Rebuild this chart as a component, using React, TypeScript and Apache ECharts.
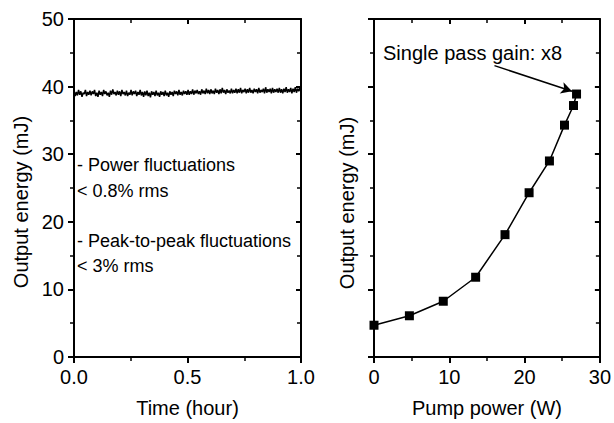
import React, { useEffect, useRef } from "react";
import * as echarts from "echarts";

// Left panel: output energy (mJ) recorded over one hour
const stabilityEnergy: number[] = [
  39.4, 38.6, 39.2, 38.7, 39.5, 38.8, 39.3, 38.5, 39.1, 38.9, 39.5, 38.6, 39.2, 38.8, 39.4, 38.7, 39.3, 38.9, 39.5, 38.6,
  39.1, 38.5, 39.4, 38.8, 39.2, 38.6, 39.5, 38.9, 39.3, 38.7, 39.1, 38.5, 39.4, 38.8, 39.6, 38.9, 39.2, 38.7, 39.4, 38.8,
  39.3, 38.6, 39.5, 38.9, 39.2, 38.7, 39.4, 38.6, 39.1, 38.8, 39.5, 38.7, 39.3, 38.9, 39.4, 38.6, 39.2, 38.8, 39.5, 38.7,
  39.2, 38.5, 39.3, 38.7, 39.4, 38.6, 39.1, 38.4, 39.3, 38.8, 39.2, 38.6, 39.4, 38.7, 39.1, 38.5, 39.3, 38.8, 39.2, 38.6,
  39.4, 38.7, 39.1, 38.5, 39.3, 38.8, 39.2, 38.6, 39.4, 38.9, 39.3, 38.7, 39.5, 38.8, 39.2, 38.7, 39.4, 38.9, 39.3, 38.8,
  39.5, 38.8, 39.3, 38.9, 39.6, 38.8, 39.4, 39.0, 39.5, 38.9, 39.3, 38.8, 39.6, 39.0, 39.4, 38.9, 39.7, 39.0, 39.5, 38.9,
  39.6, 39.0, 39.4, 38.9, 39.7, 39.1, 39.5, 38.9, 39.6, 39.0, 39.8, 39.1, 39.5, 38.9, 39.6, 39.1, 39.4, 39.0, 39.7, 39.0,
  39.5, 39.1, 39.7, 39.0, 39.6, 39.1, 39.8, 39.0, 39.5, 39.2, 39.7, 39.0, 39.6, 39.1, 39.8, 39.1, 39.5, 39.0, 39.7, 39.2,
  39.6, 39.0, 39.8, 39.1, 39.5, 39.2, 39.7, 39.0, 39.9, 39.1, 39.6, 39.2, 39.7, 39.0, 39.8, 39.1, 39.6, 39.2, 39.7, 39.1,
  39.8, 39.1, 39.6, 39.0, 39.7, 39.2, 39.9, 39.1, 39.6, 39.2, 39.8, 39.0, 39.7, 39.2, 39.9, 39.1, 39.7, 39.3, 39.8, 39.2,
];
const durationHours = 1;

// Right panel: pump power (W) vs output energy (mJ)
const pumpPower: number[] = [0, 4.7, 9.2, 13.5, 17.4, 20.6, 23.3, 25.3, 26.5, 26.9];
const pumpEnergy: number[] = [4.7, 6.1, 8.25, 11.8, 18.1, 24.3, 29.0, 34.3, 37.2, 38.9];

// Annotation arrow (data coords of the right panel)
const arrowFrom: [number, number] = [16.0, 43.1];
const arrowTo: [number, number] = [26.3, 39.3];

const leftNotes: string[] = [
  "- Power fluctuations",
  "< 0.8% rms",
  "- Peak-to-peak fluctuations",
  "< 3% rms",
];
const rightNote = "Single pass gain: x8";
const yName = "Output energy (mJ)";
const xNameLeft = "Time (hour)";
const xNameRight = "Pump power (W)";

const FONT = "'Liberation Sans', Arial, Helvetica, sans-serif";

export default function App() {
  const ref = useRef<HTMLDivElement>(null);

  useEffect(() => {
    if (!ref.current) return;
    const chart = echarts.init(ref.current, undefined, { renderer: "svg" });

    const n = stabilityEnergy.length;
    const noiseData = stabilityEnergy.map((v, i) => [(i / (n - 1)) * durationHours, v]);
    const pumpData = pumpPower.map((p, i) => [p, pumpEnergy[i]]);

    const line = { show: true, onZero: false, lineStyle: { color: "#000", width: 2 } };
    const outTick = { show: true, inside: false, length: 6, lineStyle: { color: "#000", width: 2 } };
    const inTick = { show: true, inside: true, length: 5, lineStyle: { color: "#000", width: 2 } };
    const minor = (len: number) => ({ show: true, splitNumber: 2, length: len, lineStyle: { color: "#000", width: 1.5 } });
    const label = { show: true, color: "#000", fontSize: 20, fontFamily: FONT, margin: 10 };
    const noLabel = { show: false };

    const xBottom = (grid: number, max: number, interval: number, name: string, fmt?: (v: number) => string) => ({
      type: "value",
      gridIndex: grid,
      position: "bottom",
      min: 0,
      max,
      interval,
      axisLine: line,
      axisTick: outTick,
      minorTick: minor(4),
      splitLine: { show: false },
      axisLabel: { ...label, formatter: fmt },
      name,
      nameLocation: "middle",
      nameGap: 41,
      nameTextStyle: { color: "#000", fontSize: 20, fontFamily: FONT },
    });
    const xTop = (grid: number, max: number, interval: number) => ({
      type: "value",
      gridIndex: grid,
      position: "top",
      min: 0,
      max,
      interval,
      axisLine: line,
      axisTick: inTick,
      minorTick: minor(4),
      splitLine: { show: false },
      axisLabel: noLabel,
    });
    const yLeft = (grid: number, showLabels: boolean) => ({
      type: "value",
      gridIndex: grid,
      position: "left",
      min: 0,
      max: 50,
      interval: 10,
      axisLine: line,
      axisTick: outTick,
      minorTick: minor(4),
      splitLine: { show: false },
      axisLabel: showLabels ? label : noLabel,
    });
    const yRight = (grid: number) => ({
      type: "value",
      gridIndex: grid,
      position: "right",
      min: 0,
      max: 50,
      interval: 10,
      axisLine: line,
      axisTick: inTick,
      minorTick: minor(4),
      splitLine: { show: false },
      axisLabel: noLabel,
    });

    const textStyle = (text: string, size: number, align: string) => ({
      text,
      fontSize: size,
      fontFamily: FONT,
      fill: "#000",
      align,
      verticalAlign: "middle",
    });

    const noteY = [165, 191, 241, 266];

    chart.setOption({
      animation: false,
      backgroundColor: "#fff",
      grid: [
        { left: 74, right: 313, top: 19, bottom: 63.5 },
        { left: 374, right: 12.5, top: 19, bottom: 63.5 },
      ],
      xAxis: [
        xBottom(0, 1, 0.5, xNameLeft, (v: number) => v.toFixed(1)),
        xTop(0, 1, 0.5),
        xBottom(1, 30, 10, xNameRight),
        xTop(1, 30, 10),
      ],
      yAxis: [yLeft(0, true), yRight(0), yLeft(1, false), yRight(1)],
      series: [
        {
          type: "line",
          xAxisIndex: 0,
          yAxisIndex: 0,
          data: noiseData,
          showSymbol: false,
          symbol: "none",
          lineStyle: { color: "#000", width: 1.5 },
        },
        {
          type: "line",
          xAxisIndex: 2,
          yAxisIndex: 2,
          data: pumpData,
          symbol: "rect",
          symbolSize: 9,
          itemStyle: { color: "#000" },
          lineStyle: { color: "#000", width: 1.5 },
          markLine: {
            silent: true,
            symbol: ["none", "arrow"],
            symbolSize: [9, 11],
            label: { show: false },
            lineStyle: { color: "#000", width: 1.5, type: "solid" },
            data: [[{ coord: arrowFrom }, { coord: arrowTo }]],
          },
        },
      ],
      graphic: [
        ...leftNotes.map((t, i) => ({
          type: "text",
          x: 77,
          y: noteY[i],
          style: textStyle(t, 18, "left"),
        })),
        { type: "text", x: 383, y: 53, style: textStyle(rightNote, 20, "left") },
        { type: "text", x: 21, y: 202, rotation: Math.PI / 2, style: textStyle(yName, 20, "center") },
        { type: "text", x: 347, y: 203, rotation: Math.PI / 2, style: textStyle(yName, 20, "center") },
      ],
    });

    return () => chart.dispose();
  }, []);

  return (
    <div
      ref={ref}
      style={{ position: "fixed", left: 0, top: 0, width: 614, height: 423, background: "#fff" }}
    />
  );
}
